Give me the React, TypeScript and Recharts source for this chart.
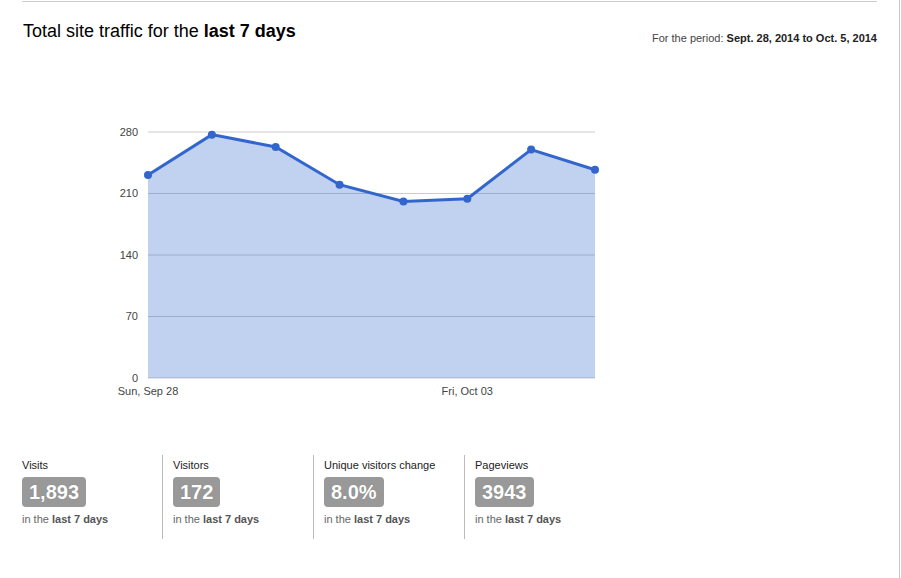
import { AreaChart, Area, XAxis, YAxis, CartesianGrid } from 'recharts';

const DAYS = ['Sun, Sep 28', 'Mon, Sep 29', 'Tue, Sep 30', 'Wed, Oct 01', 'Thu, Oct 02', 'Fri, Oct 03', 'Sat, Oct 04', 'Sun, Oct 05'];
const VISITS = [231, 277, 263, 220, 201, 204, 260, 237];
const SHOWN_DAYS = ['Sun, Sep 28', 'Fri, Oct 03'];
const Y_TICKS = [0, 70, 140, 210, 280];

const STAT_LABELS = ['Visits', 'Visitors', 'Unique visitors change', 'Pageviews'];
const STAT_VALUES = ['1,893', '172', '8.0%', '3943'];

const FONT = '"Liberation Sans", Arial, sans-serif';
const BLUE = '#3366cc';

export default function App() {
  const data = DAYS.map((d, i) => ({ day: d, visits: VISITS[i] }));

  return (
    <div style={{ position: 'absolute', left: 0, top: 0, width: 901, height: 578, fontFamily: FONT, background: '#fff', overflow: 'hidden' }}>
      {/* top rule + right edge */}
      <div style={{ position: 'absolute', left: 22, top: 1, width: 855, height: 1, background: '#ccc' }} />
      <div style={{ position: 'absolute', left: 899, top: 0, width: 1, height: 578, background: '#c8c8c8' }} />

      <div style={{ position: 'absolute', left: 23, top: 21, fontSize: 18, color: '#000', whiteSpace: 'nowrap' }}>
        Total site traffic for the <b>last 7 days</b>
      </div>
      <div style={{ position: 'absolute', right: 24, top: 32, fontSize: 11, color: '#444', whiteSpace: 'nowrap' }}>
        For the period: <b style={{ color: '#222' }}>Sept. 28, 2014 to Oct. 5, 2014</b>
      </div>

      <div style={{ position: 'absolute', left: 0, top: 100 }}>
        <AreaChart width={620} height={320} data={data} margin={{ top: 32, right: 25, left: 0, bottom: 12 }}>
          <CartesianGrid vertical={false} stroke="#ccc" />
          <XAxis dataKey="day" interval={0} axisLine={false} tickLine={false} tickSize={0} tickMargin={9} height={30}
                 tick={{ fontSize: 11, fill: '#444', fontFamily: FONT }}
                 tickFormatter={(v) => (SHOWN_DAYS.includes(v) ? v : '')} />
          <YAxis width={148} domain={[0, 280]} ticks={Y_TICKS} axisLine={false} tickLine={false} tickSize={0} tickMargin={10}
                 tick={{ fontSize: 11, fill: '#444', fontFamily: FONT }} />
          <Area type="linear" dataKey="visits" stroke={BLUE} strokeWidth={3} fill={BLUE} fillOpacity={0.3}
                dot={{ r: 4, fill: BLUE, fillOpacity: 1, stroke: 'none' }} activeDot={false} isAnimationActive={false} />
        </AreaChart>
      </div>

      {STAT_LABELS.map((label, i) => (
        <div key={label} style={{ position: 'absolute', left: 22 + 151 * i, top: 455, width: 140, height: 84 }}>
          {i > 0 && <div style={{ position: 'absolute', left: -11, top: 0, width: 1, height: 84, background: '#bbb' }} />}
          <div style={{ position: 'absolute', left: 0, top: 4, fontSize: 11, color: '#222', whiteSpace: 'nowrap' }}>{label}</div>
          <div style={{ position: 'absolute', left: 0, top: 22, height: 30, lineHeight: '30px', padding: '0 7px', borderRadius: 4,
                        background: '#999', color: '#fff', fontSize: 20, fontWeight: 'bold', whiteSpace: 'nowrap',
                        textShadow: '0 0 1px rgba(0,0,0,0.25)' }}>{STAT_VALUES[i]}</div>
          <div style={{ position: 'absolute', left: 0, top: 58, fontSize: 11, color: '#666', whiteSpace: 'nowrap' }}>
            in the <b style={{ color: '#555' }}>last 7 days</b>
          </div>
        </div>
      ))}
    </div>
  );
}
